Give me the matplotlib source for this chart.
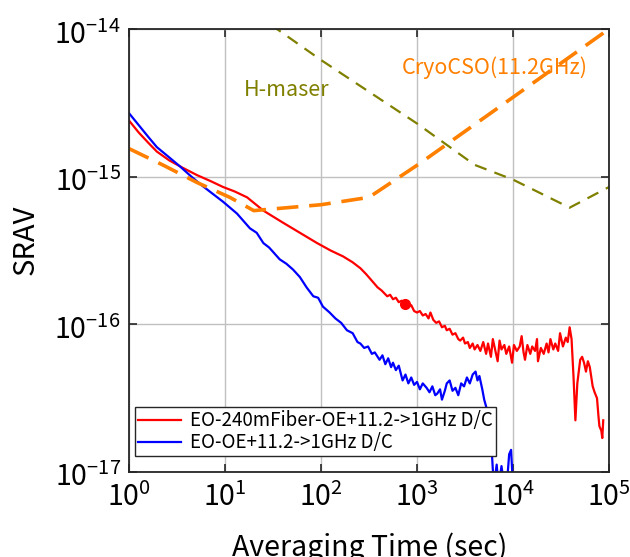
import numpy as np
import matplotlib
matplotlib.use('Agg')
import matplotlib.pyplot as plt
from matplotlib.transforms import ScaledTranslation

# fuente tipo gótica japonesa
plt.rcParams['font.family'] = ['Noto Sans CJK JP', 'DejaVu Sans']
plt.rcParams['mathtext.fontset'] = 'custom'
plt.rcParams['mathtext.rm'] = 'Noto Sans CJK JP'
plt.rcParams['mathtext.it'] = 'Noto Sans CJK JP'

# ----- datos (exponentes log10) -----
# EO-240mFiber-OE+11.2->1GHz D/C
red_lt = [0, 0.1, 0.2, 0.29, 0.42, 0.56, 0.71, 0.85, 0.98, 1.1, 1.23, 1.4, 1.6, 1.78,
          1.96, 2.1, 2.23, 2.33, 2.41, 2.47, 2.51, 2.55, 2.59, 2.63, 2.66, 2.69, 2.72,
          2.75, 2.78, 2.81, 2.84, 2.875, 2.91, 2.94, 2.97, 3.0, 3.03, 3.06, 3.09, 3.12,
          3.14, 3.17, 3.2, 3.23, 3.26, 3.29, 3.31, 3.34, 3.37, 3.4, 3.43, 3.45, 3.48,
          3.5, 3.53, 3.55, 3.58, 3.6, 3.63, 3.66, 3.69, 3.72, 3.74, 3.77, 3.79, 3.82,
          3.84, 3.86, 3.88, 3.91, 3.93, 3.96, 3.99, 4.01, 4.04, 4.07, 4.09, 4.11, 4.125,
          4.15, 4.18, 4.2, 4.23, 4.25, 4.26, 4.29, 4.32, 4.35, 4.37, 4.39, 4.42, 4.44,
          4.47, 4.49, 4.52, 4.55, 4.57, 4.59, 4.61, 4.63, 4.65, 4.67, 4.70, 4.72, 4.74,
          4.76, 4.78, 4.80, 4.83, 4.85, 4.875, 4.89, 4.90, 4.92, 4.93, 4.94]
red_ly = [-14.62, -14.70, -14.77, -14.83, -14.89, -14.94, -14.99, -15.03, -15.07, -15.10,
          -15.14, -15.23, -15.31, -15.38, -15.45, -15.50, -15.54, -15.58, -15.62, -15.66,
          -15.69, -15.72, -15.75, -15.77, -15.79, -15.81, -15.80, -15.83, -15.82, -15.85,
          -15.84, -15.86, -15.88, -15.87, -15.91, -15.92, -15.91, -15.94, -15.93, -15.96,
          -15.92, -15.97, -15.99, -15.98, -16.02, -16.01, -16.04, -16.03, -16.07, -16.06,
          -16.10, -16.11, -16.09, -16.13, -16.12, -16.16, -16.13, -16.17, -16.14, -16.18,
          -16.12, -16.20, -16.13, -16.22, -16.10, -16.19, -16.25, -16.11, -16.17, -16.14,
          -16.20, -16.15, -16.26, -16.14, -16.18, -16.15, -16.08, -16.19, -16.24, -16.14,
          -16.20, -16.15, -16.18, -16.10, -16.25, -16.16, -16.20, -16.13, -16.19, -16.10,
          -16.17, -16.13, -16.18, -16.06, -16.15, -16.09, -16.12, -16.02, -16.10, -16.35,
          -16.65, -16.40, -16.24, -16.22, -16.26, -16.32, -16.25, -16.29, -16.42, -16.46,
          -16.50, -16.62, -16.69, -16.72, -16.77, -16.65]
red_mark = (2.875, -15.86)

# EO-OE+11.2->1GHz D/C
blue_lt = [0, 0.1, 0.2, 0.29, 0.42, 0.53, 0.65, 0.76, 0.88, 0.98, 1.125, 1.26, 1.33, 1.40,
           1.46, 1.57, 1.64, 1.71, 1.78, 1.85, 1.92, 1.97, 2.02, 2.09, 2.15, 2.21, 2.27,
           2.33, 2.38, 2.41, 2.45, 2.49, 2.53, 2.56, 2.58, 2.61, 2.64, 2.67, 2.70, 2.73,
           2.75, 2.78, 2.81, 2.85, 2.88, 2.91, 2.94, 2.97, 3.0, 3.03, 3.06, 3.1, 3.13,
           3.16, 3.19, 3.21, 3.24, 3.26, 3.29, 3.31, 3.34, 3.37, 3.40, 3.43, 3.46, 3.49,
           3.52, 3.55, 3.58, 3.61, 3.63, 3.65, 3.68, 3.70, 3.73, 3.75, 3.78, 3.80, 3.83,
           3.85, 3.88, 3.91, 3.94, 3.96, 3.98, 4.0]
blue_ly = [-14.57, -14.65, -14.73, -14.80, -14.87, -14.93, -15.00, -15.06, -15.12, -15.17,
           -15.25, -15.35, -15.38, -15.45, -15.48, -15.56, -15.59, -15.63, -15.68, -15.75,
           -15.81, -15.82, -15.88, -15.92, -15.96, -15.99, -16.04, -16.06, -16.12, -16.13,
           -16.16, -16.15, -16.20, -16.19, -16.21, -16.24, -16.21, -16.27, -16.23, -16.29,
           -16.26, -16.31, -16.28, -16.38, -16.34, -16.40, -16.36, -16.41, -16.39, -16.44,
           -16.40, -16.43, -16.46, -16.42, -16.48, -16.47, -16.44, -16.51, -16.45, -16.40,
           -16.38, -16.45, -16.43, -16.48, -16.40, -16.42, -16.36, -16.40, -16.34, -16.32,
           -16.38, -16.35, -16.44, -16.51, -16.58, -16.72, -16.87, -17.10, -16.95, -17.10,
           -16.96, -17.10, -17.05, -16.88, -16.85, -17.10]

# CryoCSO(11.2GHz)
cso_lt = [0, 0.35, 0.71, 1.05, 1.3, 2.0, 2.5, 3.03, 4.07, 5.0]
cso_ly = [-14.81, -14.92, -15.04, -15.14, -15.23, -15.19, -15.14, -14.91, -14.43, -14.0]

# H-maser
maser_lt = [1.3, 2.0, 3.0, 3.6, 4.0, 4.59, 5.0]
maser_ly = [-13.89, -14.21, -14.64, -14.92, -15.02, -15.21, -15.07]

p = lambda a: 10.0**np.array(a)

fig = plt.figure(figsize=(6.3, 5.57), dpi=100)
ax = fig.add_axes([129/630, 1-472/557, 480/630, 443/557])

ax.plot(p(red_lt), p(red_ly), color='#ff0000', lw=1.6,
        label='EO-240mFiber-OE+11.2->1GHz D/C')
ax.plot(p(blue_lt), p(blue_ly), color='#0000ff', lw=1.6,
        label='EO-OE+11.2->1GHz D/C')
ax.plot(10**red_mark[0], 10**red_mark[1], 'o', color='#ff0000', ms=7)
ax.plot(p(cso_lt), p(cso_ly), color='#ff8000', lw=2.6, dashes=(6.0, 3.0))
ax.plot(p(maser_lt), p(maser_ly), color='#808000', lw=1.6, dashes=(5.5, 3.8))

ax.text(10**1.646, 10**-14.41, 'H-maser', color='#808000', fontsize=15.5,
        ha='center', va='center')
ax.text(10**3.81, 10**-14.26, 'CryoCSO(11.2GHz)', color='#ff8000', fontsize=15.5,
        ha='center', va='center')

ax.set_xscale('log')
ax.set_yscale('log')
ax.set_xlim(1, 1e5)
ax.set_ylim(1e-17, 1e-14)
ax.xaxis.set_major_locator(matplotlib.ticker.LogLocator(base=10, numticks=10))
ax.yaxis.set_major_locator(matplotlib.ticker.LogLocator(base=10, numticks=10))
ax.minorticks_off()
ax.grid(True, color='#c0c0c0', lw=1)
ax.set_axisbelow(True)
ax.tick_params(direction='in', length=6, width=1.2, top=True, right=True,
               labelsize=20.5, pad=6, color='#262626')
ax.tick_params(axis='x', pad=8)
for s in ax.spines.values():
    s.set_color('#262626')
    s.set_linewidth(1.3)

# etiquetas y un poco mas abajo, como en la original
off = ScaledTranslation(0, -3/100, fig.dpi_scale_trans)
for lab in ax.get_yticklabels():
    lab.set_transform(lab.get_transform() + off)

fig.text(26/630, 1-240/557, 'SRAV', fontsize=21, rotation=90,
         ha='center', va='center')
fig.text(370/630, 1-548/557, 'Averaging Time (sec)', fontsize=20.5,
         ha='center', va='center')

leg = ax.legend(loc='lower left', bbox_to_anchor=(0.0125, 0.036), borderaxespad=0,
                fontsize=13.5, fancybox=False, edgecolor='#262626', framealpha=1,
                handlelength=2.3, labelspacing=0.05, borderpad=0.15, handletextpad=0.5)
leg.get_frame().set_linewidth(1.0)

fig.savefig('out.png', dpi=100)
